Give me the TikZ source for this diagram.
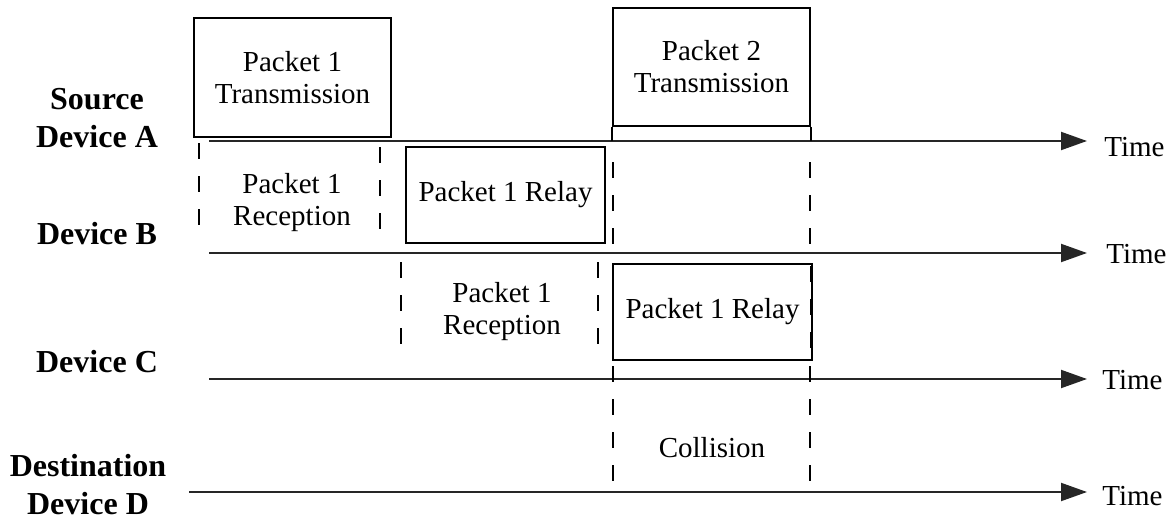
\documentclass[tikz,border=0pt]{standalone}
\usepackage{fontspec}
\setmainfont{Liberation Serif}
\usetikzlibrary{arrows.meta,positioning,calc}

\begin{document}
\begin{tikzpicture}[x=0.5pt,y=-0.5pt,>={Triangle[length=13pt,width=9pt]},
		pkt/.style={rectangle,draw=black,line width=0.8pt,align=center,inner sep=0pt,font=\fontsize{14.5}{16}\selectfont},
		dev/.style={align=center,font=\fontsize{16}{19}\selectfont\bfseries},
		lbl/.style={align=center,font=\fontsize{14.5}{16}\selectfont},
		axis/.style={->,line width=1pt,draw=black!85},
		guide/.style={line width=0.8pt,dash pattern=on 8pt off 8.5pt}]
		\useasboundingbox (0,0) rectangle (1172,519);
		
		% device names
		\node[dev] (devA) at (97,118) {Source\\Device A};
		\node[dev] (devB) at (97,234) {Device B};
		\node[dev] (devC) at (97,362) {Device C};
		\node[dev] (devD) at (88,485) {Destination\\Device D};
		
		% time axes
		\node[lbl,anchor=west,inner sep=0pt] (tA) at (1104,147) {Time};
		\node[lbl,anchor=west,inner sep=0pt] (tB) at (1106,254) {Time};
		\node[lbl,anchor=west,inner sep=0pt] (tC) at (1102,380) {Time};
		\node[lbl,anchor=west,inner sep=0pt] (tD) at (1102,496) {Time};
		\coordinate (sA) at (209,141);
		\coordinate (sB) at (209,253);
		\coordinate (sC) at (209,379);
		\coordinate (sD) at (189,492);
		\draw[axis] (sA) -- (1087,141);
		\draw[axis] (sB) -- (1087,253);
		\draw[axis] (sC) -- (1087,379);
		\draw[axis] (sD) -- (1087,492);
		
		% packets
		\node[pkt,minimum width=98.5pt,minimum height=59.5pt] (p1tx) at (292.5,77.5) {Packet 1\\Transmission};
		\node[pkt,minimum width=98.5pt,minimum height=59pt] (p2tx) at (711.5,67) {Packet 2\\Transmission};
		\node[pkt,minimum width=99.5pt,minimum height=48pt] (relB) at (505.5,195) {Packet 1 Relay};
		\node[pkt,minimum width=99.5pt,minimum height=48pt] (relC) at (712.5,312) {Packet 1 Relay};
		\node[lbl] (recB) at (292,203) {Packet 1\\Reception};
		\node[lbl] (recC) at (502,312) {Packet 1\\Reception};
		\node[lbl] (coll) at (712,448) {Collision};
		
		\draw[line width=0.8pt] (p2tx.south west) -- (p2tx.south west |- sA);
		\draw[line width=0.8pt] (p2tx.south east) -- (p2tx.south east |- sA);
		
		% guides
		\draw[guide] (199,143) -- (199,235);
		\draw[guide] (380,147) -- (380,235);
		\draw[guide] (613,162) -- (613,246);
		\draw[guide] (810,162) -- (810,246);
		\draw[guide] (401,262) -- (401,348);
		\draw[guide] (598,262) -- (598,348);
		\draw[guide] (613,366) -- (613,488);
		\draw[guide] (810,366) -- (810,488);
		\draw[guide,line width=1.2pt] (811,266) -- (811,360);
\end{tikzpicture}
\end{document}
